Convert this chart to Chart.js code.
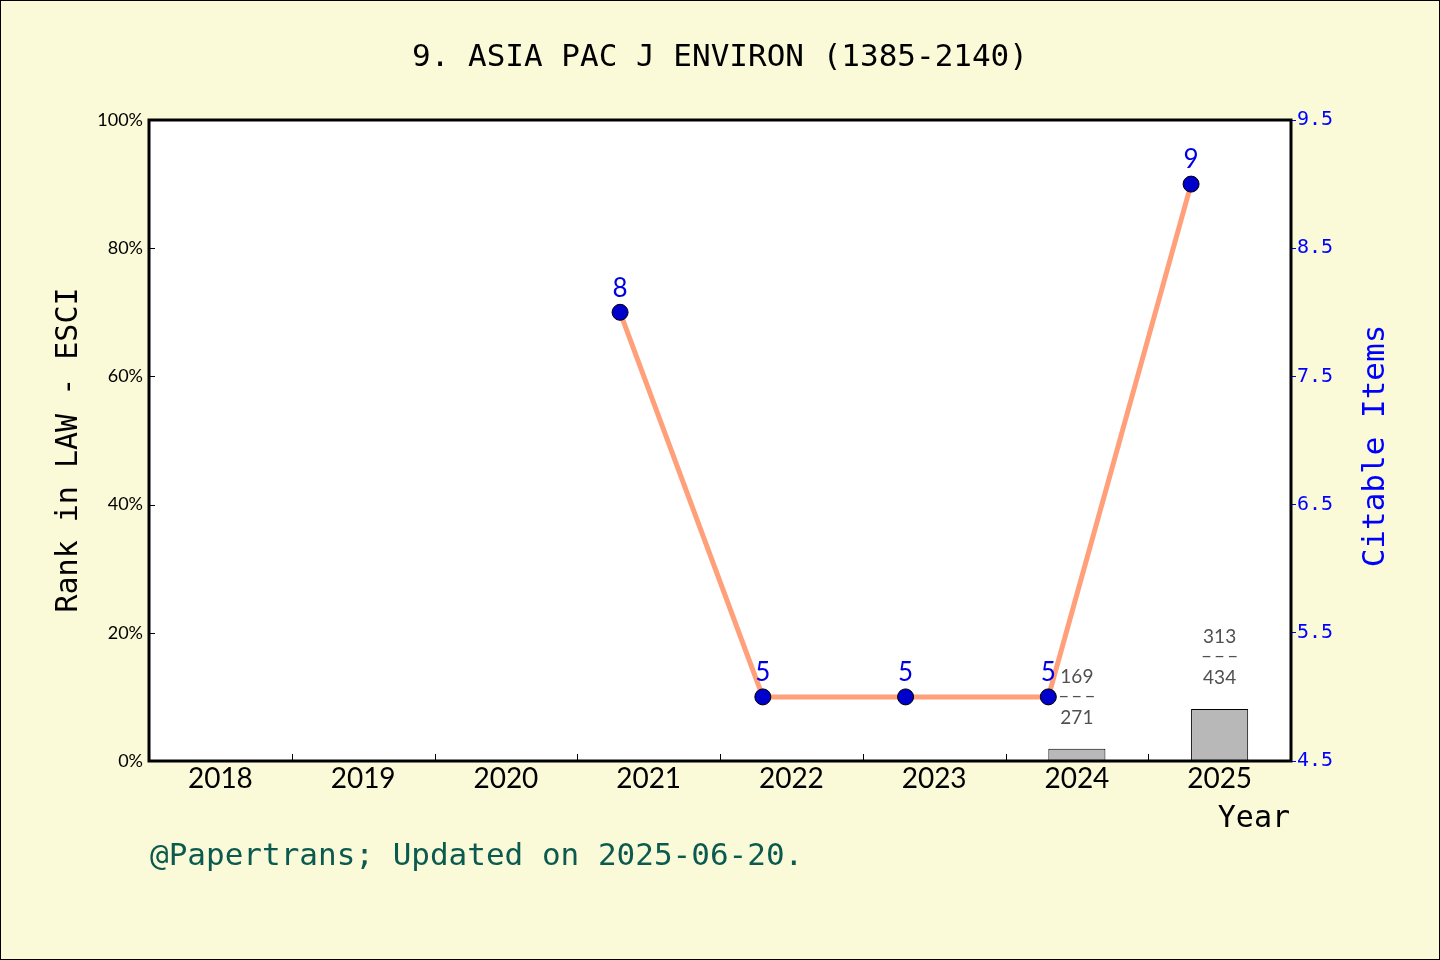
<!DOCTYPE html>
<html>
<head>
<meta charset="utf-8">
<script src="https://cdn.jsdelivr.net/npm/chart.js@4.4.1/dist/chart.umd.min.js"></script>
<style>
    html, body { margin: 0; padding: 0; background: #fafad9; }
    #wrap { width: 1440px; height: 960px; }
</style>
</head>
<body>
<div id="wrap"><canvas id="chart" width="1440" height="960"></canvas></div>
<script>
// data
const years = ['2018', '2019', '2020', '2021', '2022', '2023', '2024', '2025'];
const rankPercent = [null, null, null, null, null, null, 1.9, 8.1];
const rankPos = [null, null, null, null, null, null, 169, 313];
const rankTotal = [null, null, null, null, null, null, 271, 434];
const citableItems = [null, null, null, 8, 5, 5, 5, 9];
const leftTicks = [0, 20, 40, 60, 80, 100];
const rightTicks = [4.5, 5.5, 6.5, 7.5, 8.5, 9.5];

const MONO = '"DejaVu Sans Mono", monospace';

const decor = {
    id: 'decor',
    beforeDraw(chart) {
        const ctx = chart.ctx;
        const a = chart.chartArea;
        ctx.save();
        ctx.fillStyle = '#fafad9';
        ctx.fillRect(0, 0, chart.width, chart.height);
        ctx.strokeStyle = '#000';
        ctx.lineWidth = 1;
        ctx.strokeRect(0.5, 0.5, chart.width - 1, chart.height - 1);
        ctx.fillStyle = '#fff';
        ctx.fillRect(a.left, a.top, a.right - a.left, a.bottom - a.top);
        ctx.restore();
    },
    afterDatasetsDraw(chart) {
        const ctx = chart.ctx;
        const a = chart.chartArea;
        const x = chart.scales.x;
        const y = chart.scales.y;
        ctx.save();

        // inward tick marks
        ctx.strokeStyle = '#000';
        ctx.lineWidth = 1;
        ctx.beginPath();
        leftTicks.forEach(function(v) {
            const py = Math.round(y.getPixelForValue(v)) + 0.5;
            ctx.moveTo(a.left, py);
            ctx.lineTo(a.left + 6, py);
        });
        for (let i = 1; i < years.length; i++) {
            const px = Math.round((x.getPixelForValue(i - 1) + x.getPixelForValue(i)) / 2) + 0.5;
            ctx.moveTo(px, a.bottom);
            ctx.lineTo(px, a.bottom - 7);
        }
        ctx.stroke();

        // plot frame
        ctx.lineWidth = 3;
        ctx.strokeRect(a.left, a.top, a.right - a.left, a.bottom - a.top);

        // rank labels over bars
        ctx.fillStyle = '#505050';
        ctx.textAlign = 'center';
        ctx.textBaseline = 'middle';
        chart.getDatasetMeta(0).data.forEach(function(bar, i) {
            if (rankPercent[i] == null) return;
            ctx.font = '19px Lato';
            ctx.fillText(String(rankPos[i]), bar.x, bar.y - 72);
            ctx.letterSpacing = '2px';
            ctx.fillText('\u2013\u2013\u2013', bar.x + 1, bar.y - 53);
            ctx.letterSpacing = '0px';
            ctx.fillText(String(rankTotal[i]), bar.x, bar.y - 31);
        });

        // citable item labels over points
        ctx.fillStyle = '#0000e0';
        ctx.font = '26px Lato';
        chart.getDatasetMeta(1).data.forEach(function(pt, i) {
            if (citableItems[i] == null) return;
            ctx.fillText(String(citableItems[i]), pt.x, pt.y - 24);
        });
        ctx.restore();
    },
    afterDraw(chart) {
        const ctx = chart.ctx;
        ctx.save();
        ctx.textBaseline = 'middle';
        ctx.fillStyle = '#000';
        ctx.textAlign = 'center';
        ctx.font = '31px ' + MONO;
        ctx.fillText('9. ASIA PAC J ENVIRON (1385-2140)', 720, 58);

        ctx.textAlign = 'right';
        ctx.font = '30px ' + MONO;
        ctx.fillText('Year', 1290, 819);

        ctx.textAlign = 'left';
        ctx.fillStyle = '#0b5a4f';
        ctx.font = '31px ' + MONO;
        ctx.fillText('@Papertrans; Updated on 2025-06-20.', 150, 857);

        ctx.textAlign = 'center';
        ctx.save();
        ctx.translate(69, 450);
        ctx.rotate(-Math.PI / 2);
        ctx.fillStyle = '#000';
        ctx.font = '30px ' + MONO;
        ctx.fillText('Rank in LAW - ESCI', 0, 0);
        ctx.restore();

        ctx.save();
        ctx.translate(1376, 446);
        ctx.rotate(-Math.PI / 2);
        ctx.fillStyle = '#0000ff';
        ctx.font = '31px ' + MONO;
        ctx.fillText('Citable Items', 0, 0);
        ctx.restore();
        ctx.restore();
    }
};

const chart = new Chart(document.getElementById('chart'), {
    data: {
        labels: years,
        datasets: [{
            type: 'bar',
            data: rankPercent,
            xAxisID: 'x',
            yAxisID: 'y',
            backgroundColor: '#b8b8b8',
            borderColor: '#000',
            borderWidth: 1,
            barPercentage: 0.4,
            categoryPercentage: 1,
            grouped: false,
            order: 2
        }, {
            type: 'line',
            data: citableItems.map((v, i) => ({ x: Number(years[i]), y: v })),
            xAxisID: 'x2',
            yAxisID: 'y2',
            borderColor: '#ffa07a',
            borderWidth: 5,
            pointRadius: 8,
            pointBackgroundColor: '#0000cc',
            pointBorderColor: '#000',
            pointBorderWidth: 1,
            tension: 0,
            order: 1
        }]
    },
    options: {
        responsive: false,
        animation: false,
        devicePixelRatio: 1,
        layout: { padding: { top: 120, left: 0, right: 0, bottom: 0 } },
        plugins: {
            legend: { display: false },
            tooltip: { enabled: false },
            title: { display: false }
        },
        scales: {
            x: {
                type: 'category',
                position: 'bottom',
                offset: true,
                grid: { display: false, drawTicks: false },
                border: { display: false },
                ticks: { color: '#000', font: { family: 'Lato', size: 28 }, padding: 1, maxRotation: 0 },
                afterFit(s) { s.height = 199; }
            },
            x2: {
                type: 'linear',
                position: 'bottom',
                display: false,
                offset: false,
                min: Number(years[0]) - 0.3,
                max: Number(years[years.length - 1]) + 0.7
            },
            y: {
                type: 'linear',
                position: 'left',
                min: 0,
                max: 100,
                grid: { display: false, drawTicks: false },
                border: { display: false },
                ticks: {
                    stepSize: 20,
                    color: '#000',
                    font: { family: 'Lato', size: 18 },
                    padding: 6,
                    callback: v => v + '%'
                },
                afterBuildTicks(s) { s.ticks = leftTicks.map(v => ({ value: v })); },
                afterFit(s) { s.width = 149; }
            },
            y2: {
                type: 'linear',
                position: 'right',
                min: rightTicks[0],
                max: rightTicks[rightTicks.length - 1],
                grid: { drawOnChartArea: false, drawTicks: true, tickLength: 5, color: '#0000ff' },
                border: { display: false },
                ticks: {
                    color: '#0000ff',
                    font: { family: MONO, size: 20 },
                    padding: 1,
                    callback: v => Number(v).toFixed(1)
                },
                afterBuildTicks(s) { s.ticks = rightTicks.map(v => ({ value: v })); },
                afterFit(s) { s.width = 149; }
            }
        }
    },
    plugins: [decor]
});
</script>
</body>
</html>
